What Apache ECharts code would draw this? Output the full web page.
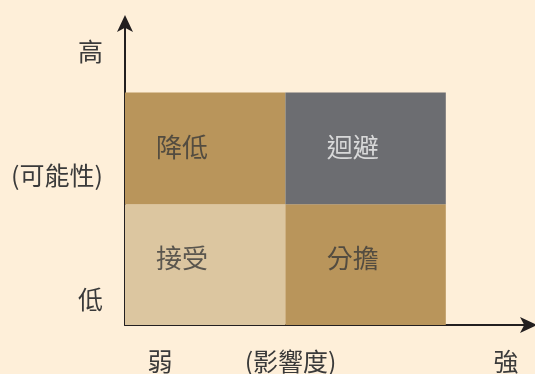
<!DOCTYPE html>
<html><head><meta charset="utf-8">
<script src="https://cdn.jsdelivr.net/npm/echarts@6/dist/echarts.min.js"></script>
<style>html,body{margin:0;padding:0;background:#feefd9;}#c{width:535px;height:374px;}</style>
</head><body><div id="c"></div>
<script>
// Impact (x) and likelihood (y) bands
const xEdges = [0, 4, 8];
const yEdges = [0, 4, 7.7];
// cells: [yBand][xBand]
const cellNames = [['接受', '分擔'], ['降低', '迴避']];
const cellColors = [['#dcc6a0', '#b9955b'], ['#b9955b', '#6c6d71']];
const cellTextColors = [['#3a3a3a', '#3a3a3a'], ['#3a3a3a', '#f4f4f4']];
const cellLabelX = [1.42, 5.68];
const cellLabelY = [2.2, 5.9];
// axis tick labels
const xTickValues = [0.87, 4.13, 9.5];
const xTickLabels = ['弱', '(影響度)', '強'];
const yTickValues = [0.83, 4.95, 9.04];
const yTickLabels = ['低', '(可能性)', '高'];

const FONT = '"Noto Sans CJK TC", "Noto Sans CJK SC", sans-serif';

const rects = [];
const labels = [];
for (let j = 0; j < 2; j++) {
  for (let i = 0; i < 2; i++) {
    rects.push({ value: [xEdges[i], xEdges[i + 1], yEdges[j], yEdges[j + 1]], itemStyle: { color: cellColors[j][i] } });
    labels.push({ value: [cellLabelX[i], cellLabelY[j]], name: cellNames[j][i], label: { color: cellTextColors[j][i] } });
  }
}

const chart = echarts.init(document.getElementById('c'), null, { renderer: 'canvas' });
chart.setOption({
  backgroundColor: '#feefd9',
  animation: false,
  grid: { left: 125, right: 9, top: 23, bottom: 48 },
  xAxis: {
    type: 'value', min: 0, max: 10,
    splitLine: { show: false },
    axisTick: { show: false },
    axisLine: { show: true, onZero: false, symbol: ['none', 'arrow'], symbolSize: [12, 17], symbolOffset: [0, 11], lineStyle: { color: '#231f20', width: 2 } },
    axisLabel: {
      customValues: xTickValues, margin: 24,
      formatter: v => { const k = xTickValues.indexOf(v); return k >= 0 ? xTickLabels[k] : ''; },
      color: '#3a3a3a', fontSize: 25, fontFamily: FONT
    }
  },
  yAxis: {
    type: 'value', min: 0, max: 10,
    splitLine: { show: false },
    axisTick: { show: false },
    axisLine: { show: true, onZero: false, symbol: ['none', 'arrow'], symbolSize: [12, 17], symbolOffset: [0, 8], lineStyle: { color: '#231f20', width: 2 } },
    axisLabel: {
      customValues: yTickValues, margin: 22,
      formatter: v => { const k = yTickValues.indexOf(v); return k >= 0 ? yTickLabels[k] : ''; },
      color: '#3a3a3a', fontSize: 25, fontFamily: FONT
    }
  },
  series: [
    {
      type: 'custom',
      z: 1,
      data: rects,
      renderItem: function (params, api) {
        const p0 = api.coord([api.value(0), api.value(3)]);
        const p1 = api.coord([api.value(1), api.value(2)]);
        return {
          type: 'rect',
          shape: { x: p0[0], y: p0[1], width: p1[0] - p0[0], height: p1[1] - p0[1] },
          style: api.style({ stroke: null })
        };
      }
    },
    {
      type: 'scatter',
      z: 3,
      symbolSize: 0,
      data: labels,
      label: {
        show: true, position: 'inside', formatter: '{b}',
        fontSize: 26, fontFamily: FONT
      }
    }
  ]
});
</script></body></html>
